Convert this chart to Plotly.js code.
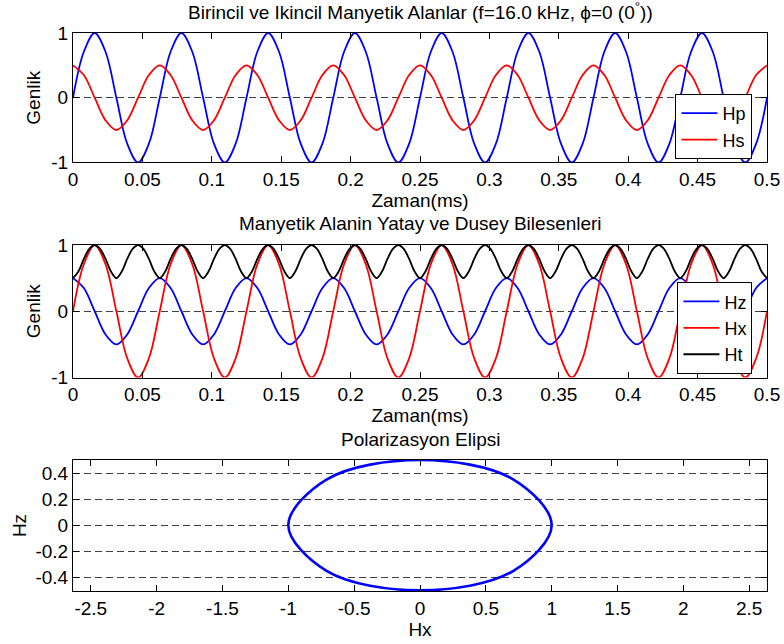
<!DOCTYPE html>
<html><head><meta charset="utf-8">
<script src="https://cdn.plot.ly/plotly-3.0.1.min.js"></script>
<style>html,body{margin:0;padding:0;background:#fff}#chart{width:784px;height:644px}</style>
</head><body><div id="chart"></div><script>
const timeStep = 0.0078125;          // ms between samples of Hp / Hs
const Hp = [
  0, 0.71, 1, 0.71, 0, -0.71, -1, -0.71,
  0, 0.71, 1, 0.71, 0, -0.71, -1, -0.71,
  0, 0.71, 1, 0.71, 0, -0.71, -1, -0.71,
  0, 0.71, 1, 0.71, 0, -0.71, -1, -0.71,
  0, 0.71, 1, 0.71, 0, -0.71, -1, -0.71,
  0, 0.71, 1, 0.71, 0, -0.71, -1, -0.71,
  0, 0.71, 1, 0.71, 0, -0.71, -1, -0.71,
  0, 0.71, 1, 0.71, 0, -0.71, -1, -0.71,
  0];
const Hs = [
  0.5, 0.35, 0, -0.35, -0.5, -0.35, 0, 0.35,
  0.5, 0.35, 0, -0.35, -0.5, -0.35, 0, 0.35,
  0.5, 0.35, 0, -0.35, -0.5, -0.35, 0, 0.35,
  0.5, 0.35, 0, -0.35, -0.5, -0.35, 0, 0.35,
  0.5, 0.35, 0, -0.35, -0.5, -0.35, 0, 0.35,
  0.5, 0.35, 0, -0.35, -0.5, -0.35, 0, 0.35,
  0.5, 0.35, 0, -0.35, -0.5, -0.35, 0, 0.35,
  0.5, 0.35, 0, -0.35, -0.5, -0.35, 0, 0.35,
  0.5];
// horizontal / vertical components (same waveforms as in the picture)
const Hx = Hp;
const Hz = Hs;
const timeStepHt = 0.00390625;       // ms between samples of Ht
const Ht = [
  0.5, 0.6, 0.79, 0.94, 1, 0.94, 0.79, 0.6,
  0.5, 0.6, 0.79, 0.94, 1, 0.94, 0.79, 0.6,
  0.5, 0.6, 0.79, 0.94, 1, 0.94, 0.79, 0.6,
  0.5, 0.6, 0.79, 0.94, 1, 0.94, 0.79, 0.6,
  0.5, 0.6, 0.79, 0.94, 1, 0.94, 0.79, 0.6,
  0.5, 0.6, 0.79, 0.94, 1, 0.94, 0.79, 0.6,
  0.5, 0.6, 0.79, 0.94, 1, 0.94, 0.79, 0.6,
  0.5, 0.6, 0.79, 0.94, 1, 0.94, 0.79, 0.6,
  0.5, 0.6, 0.79, 0.94, 1, 0.94, 0.79, 0.6,
  0.5, 0.6, 0.79, 0.94, 1, 0.94, 0.79, 0.6,
  0.5, 0.6, 0.79, 0.94, 1, 0.94, 0.79, 0.6,
  0.5, 0.6, 0.79, 0.94, 1, 0.94, 0.79, 0.6,
  0.5, 0.6, 0.79, 0.94, 1, 0.94, 0.79, 0.6,
  0.5, 0.6, 0.79, 0.94, 1, 0.94, 0.79, 0.6,
  0.5, 0.6, 0.79, 0.94, 1, 0.94, 0.79, 0.6,
  0.5, 0.6, 0.79, 0.94, 1, 0.94, 0.79, 0.6,
  0.5];

// ---- ticks & texts ----
const timeTicks = [0, 0.05, 0.1, 0.15, 0.2, 0.25, 0.3, 0.35, 0.4, 0.45, 0.5];
const timeTickLabels = ['0', '0.05', '0.1', '0.15', '0.2', '0.25', '0.3', '0.35', '0.4', '0.45', '0.5'];
const ampTicks = [-1, 0, 1];
const ampTickLabels = ['-1', '0', '1'];
const hxTicks = [-2.5, -2, -1.5, -1, -0.5, 0, 0.5, 1, 1.5, 2, 2.5];
const hxTickLabels = ['-2.5', '-2', '-1.5', '-1', '-0.5', '0', '0.5', '1', '1.5', '2', '2.5'];
const hzTicks = [-0.4, -0.2, 0, 0.2, 0.4];
const hzTickLabels = ['-0.4', '-0.2', '0', '0.2', '0.4'];
const titles = [
  'Birincil ve Ikincil Manyetik Alanlar (f=16.0 kHz, \u03D5=0 (0<sup>\u00B0</sup>))',
  'Manyetik Alanin Yatay ve Dusey Bilesenleri',
  'Polarizasyon Elipsi'
];

// ---- styling ----
const FONT = 'Liberation Sans, Arial, Helvetica, sans-serif';
const FS = 19;
const BLUE = '#0000ff', RED = '#ff0000', BLACK = '#000000';
const GRID = '#404040';

function wave(y, dx, name, color, xa, ya, legend) {
  return {type: 'scatter', mode: 'lines', y: y, x0: 0, dx: dx, name: name,
    xaxis: xa, yaxis: ya, legend: legend,
    line: {color: color, width: 1.8, shape: 'spline'}, hoverinfo: 'skip'};
}

const traces = [
  wave(Hp, timeStep, 'Hp', BLUE, 'x', 'y', 'legend'),
  wave(Hs, timeStep, 'Hs', RED, 'x', 'y', 'legend'),
  wave(Hz, timeStep, 'Hz', BLUE, 'x2', 'y2', 'legend2'),
  wave(Hx, timeStep, 'Hx', RED, 'x2', 'y2', 'legend2'),
  wave(Ht, timeStepHt, 'Ht', BLACK, 'x2', 'y2', 'legend2'),
  {type: 'scatter', mode: 'lines', x: Hx, y: Hz, xaxis: 'x3', yaxis: 'y3',
    showlegend: false, line: {color: BLUE, width: 2.6, shape: 'spline'}, hoverinfo: 'skip'}
];

function titleObj(text, standoff) {
  return {text: text, font: {family: FONT, size: FS, color: BLACK}, standoff: standoff};
}
function axisBase() {
  return {showline: true, linecolor: BLACK, linewidth: 1, mirror: 'ticks',
    ticks: 'inside', ticklen: 6, tickcolor: BLACK, tickwidth: 1,
    zeroline: false, showgrid: false, automargin: false,
    tickfont: {family: FONT, size: FS, color: BLACK}, fixedrange: true};
}
function xTime(anchor) {
  return Object.assign(axisBase(), {domain: [0, 1], anchor: anchor, range: [0, 0.5],
    tickmode: 'array', tickvals: timeTicks, ticktext: timeTickLabels,
    title: titleObj('Zaman(ms)', 0)});
}
function yAmp(anchor, dom) {
  return Object.assign(axisBase(), {domain: dom, anchor: anchor, range: [-1, 1],
    tickmode: 'array', tickvals: ampTicks, ticktext: ampTickLabels,
    showgrid: true, gridcolor: GRID, gridwidth: 1, griddash: '7px,4px',
    title: titleObj('Genlik', 5)});
}
function legendBox(y) {
  return {x: 0.979, xanchor: 'right', y: y, yanchor: 'bottom',
    bgcolor: '#ffffff', bordercolor: BLACK, borderwidth: 1, itemwidth: 36,
    font: {family: FONT, size: 18, color: BLACK}};
}
function textAnn(text, y) {
  return {text: text, xref: 'paper', yref: 'paper', x: 0.5, y: y, xanchor: 'center',
    yanchor: 'middle', showarrow: false, font: {family: FONT, size: FS, color: BLACK}};
}

const layout = {
  width: 784, height: 644,
  margin: {l: 73, r: 17, t: 33, b: 53},
  paper_bgcolor: '#ffffff', plot_bgcolor: '#ffffff',
  font: {family: FONT, size: FS, color: BLACK},
  showlegend: true, hovermode: false,
  xaxis: xTime('y'),
  yaxis: yAmp('x', [0.768, 1]),
  xaxis2: xTime('y2'),
  yaxis2: yAmp('x2', [0.3826, 0.6201]),
  xaxis3: Object.assign(axisBase(), {domain: [0, 1], anchor: 'y3', range: [-2.635, 2.635],
    tickmode: 'array', tickvals: hxTicks, ticktext: hxTickLabels,
    title: titleObj('Hx', 0)}),
  yaxis3: Object.assign(axisBase(), {domain: [0, 0.2348], anchor: 'x3', range: [-0.505, 0.5],
    tickmode: 'array', tickvals: hzTicks, ticktext: hzTickLabels,
    showgrid: true, gridcolor: GRID, gridwidth: 1, griddash: '7px,4px',
    title: titleObj('Hz', 3)}),
  legend: legendBox(0.7742),
  legend2: legendBox(0.3884),
  annotations: [
    textAnn(titles[0], 1.039),
    textAnn(titles[1], 0.6582),
    textAnn(titles[2], 0.2719)
  ]
};

Plotly.newPlot('chart', traces, layout, {displayModeBar: false, staticPlot: true});
</script></body></html>
